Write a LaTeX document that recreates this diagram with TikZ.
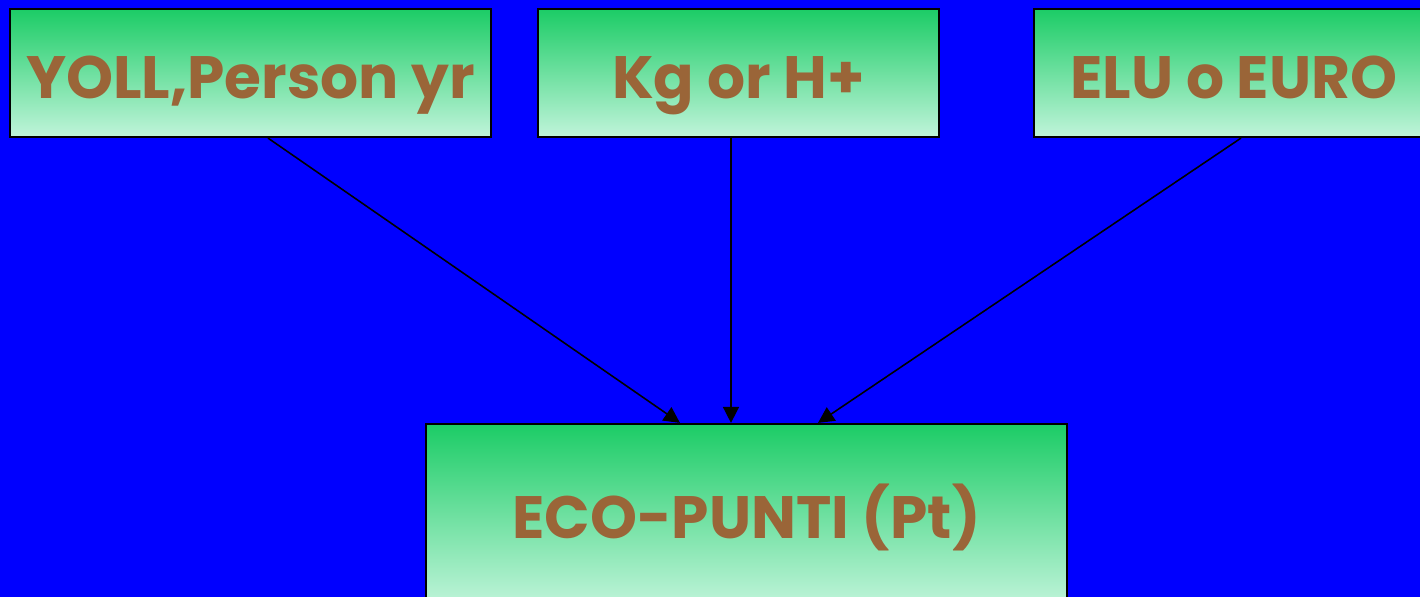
\documentclass[tikz,border=0pt]{standalone}
\usepackage{fontspec}
\newfontfamily\boxfont{Poppins}
\usetikzlibrary{arrows.meta}
\definecolor{SlideBlue}{RGB}{0,0,255}
\definecolor{BoxGreen}{RGB}{28,204,102}
\definecolor{BoxMint}{RGB}{192,244,218}
\definecolor{LabelBrown}{RGB}{154,101,56}

\begin{document}
\begin{tikzpicture}[x=0.01cm,y=-0.01cm,
  every node/.style={font=\boxfont\bfseries\fontsize{17}{20}\selectfont,text=LabelBrown},
  unitbox/.style={draw=black,line width=0.6pt,top color=BoxGreen,bottom color=BoxMint,
    minimum height=1.28cm,inner sep=0pt,text height=0.5cm,text depth=0cm},
  arr/.style={-{Triangle[length=0.16cm,width=0.16cm]},line width=0.45pt,black}]
\fill[SlideBlue] (0,0) rectangle (1420,597);
\useasboundingbox (0,0) rectangle (1420,597);
\node[unitbox,minimum width=4.81cm] (yoll) at (250.5,73) {YOLL,Person yr};
\node[unitbox,minimum width=4.01cm] (kg) at (738.5,73) {Kg or H+};
\node[unitbox,minimum width=4.00cm] (elu) at (1234,73) {ELU o EURO};
\node[unitbox,minimum width=6.41cm,minimum height=1.82cm,text height=0.46cm] (eco) at (746.5,515) {ECO-PUNTI (Pt)};
\draw[arr] ([xshift=0.175cm]yoll.south) -- ([xshift=-0.665cm]eco.north);
\draw[arr] ([xshift=-0.075cm]kg.south) -- ([xshift=-0.155cm]eco.north);
\draw[arr] ([xshift=0.07cm]elu.south) -- ([xshift=0.715cm]eco.north);
\end{tikzpicture}
\end{document}
